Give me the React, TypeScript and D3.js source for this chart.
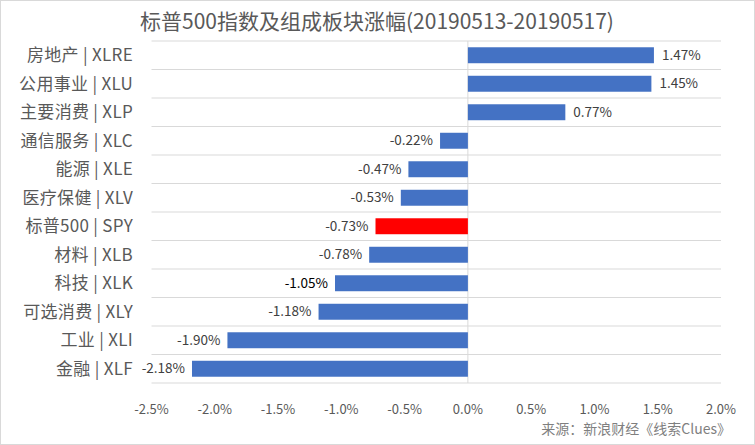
import React, { useEffect } from "react";
import * as d3 from "d3";

const categories = [
  "房地产 | XLRE",
  "公用事业 | XLU",
  "主要消费 | XLP",
  "通信服务 | XLC",
  "能源 | XLE",
  "医疗保健 | XLV",
  "标普500 | SPY",
  "材料 | XLB",
  "科技 | XLK",
  "可选消费 | XLY",
  "工业 | XLI",
  "金融 | XLF",
];
const values = [1.47, 1.45, 0.77, -0.22, -0.47, -0.53, -0.73, -0.78, -1.05, -1.18, -1.9, -2.18];
const highlight = "标普500 | SPY";
const xTicks = [-2.5, -2.0, -1.5, -1.0, -0.5, 0.0, 0.5, 1.0, 1.5, 2.0];
const title = "标普500指数及组成板块涨幅(20190513-20190517)";
const source = "来源：新浪财经《线索Clues》";

const W = 755;
const H = 445;
const FONT = "'Noto Sans CJK SC', 'Noto Sans', sans-serif";

const pct = (v: number, d: number) => v.toFixed(d) + "%";

export default function App() {
  useEffect(() => {
    document.body.style.margin = "0";
  }, []);

  const x = d3.scaleLinear().domain([-2.5, 2.0]).range([151.5, 721]);
  const y = d3
    .scaleBand<string>()
    .domain(categories)
    .range([41, 383])
    .paddingInner(0.44)
    .paddingOuter(0.22);
  const step = y.step();
  const boundaries = d3.range(categories.length + 1).map((i) => 41 + i * step);

  return (
    <svg
      width={W}
      height={H}
      style={{ position: "absolute", left: 0, top: 0, display: "block" }}
      fontFamily={FONT}
    >
      <rect x={0.5} y={0.5} width={W - 1} height={H - 1} fill="#fff" stroke="#d9d9d9" />
      <text x={377} y={29} textAnchor="middle" fontSize={21} fill="#595959">
        {title}
      </text>
      {boundaries.map((b, i) => (
        <line key={i} x1={x(-2.5)} x2={x(2.0)} y1={b} y2={b} stroke="#d9d9d9" strokeWidth={1} />
      ))}
      <line x1={x(0)} x2={x(0)} y1={41} y2={383} stroke="#d9d9d9" strokeWidth={1} />
      {categories.map((c, i) => {
        const v = values[i];
        const x0 = x(Math.min(0, v));
        const x1 = x(Math.max(0, v));
        const yy = y(c)!;
        const cy = yy + y.bandwidth() / 2;
        return (
          <g key={c}>
            <rect
              x={x0}
              y={yy}
              width={x1 - x0}
              height={y.bandwidth()}
              fill={c === highlight ? "#ff0000" : "#4472c4"}
            />
            <text
              x={v >= 0 ? x(v) + 8 : x(v) - 7}
              y={cy}
              dy="0.35em"
              textAnchor={v >= 0 ? "start" : "end"}
              fontSize={13.5}
              fill={v === -1.05 ? "#000000" : "#404040"}
            >
              {pct(v, 2)}
            </text>
            <text
              x={133}
              y={cy}
              dy="0.35em"
              textAnchor="end"
              fontSize={17}
              letterSpacing={0.3}
              fill="#595959"
            >
              {c}
            </text>
          </g>
        );
      })}
      {xTicks.map((t) => (
        <text key={t} x={x(t)} y={409} dy="0.35em" textAnchor="middle" fontSize={13} fill="#595959">
          {pct(t, 1)}
        </text>
      ))}
      <text x={731} y={429} dy="0.35em" textAnchor="end" fontSize={14} fill="#7f7f7f">
        {source}
      </text>
    </svg>
  );
}
